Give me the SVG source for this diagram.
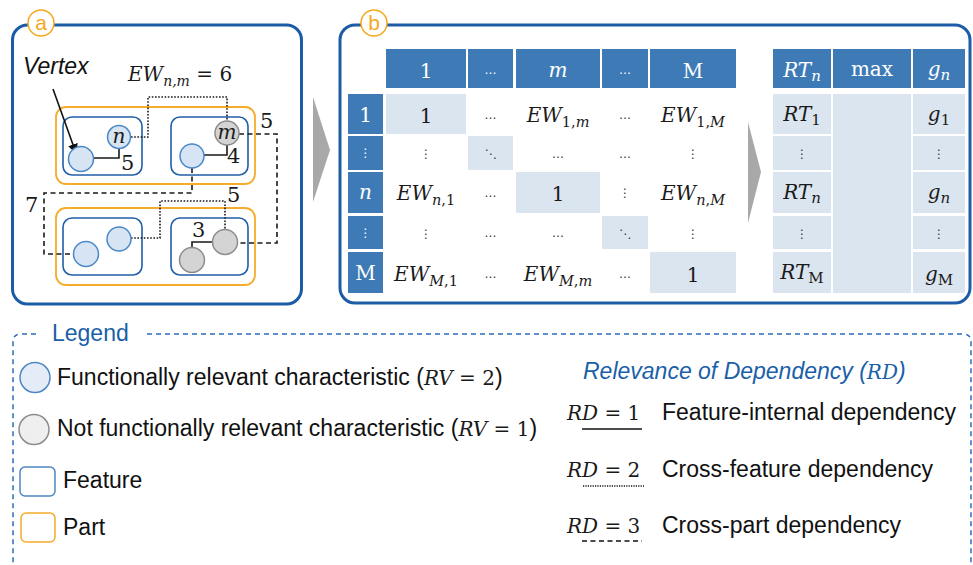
<svg xmlns="http://www.w3.org/2000/svg" width="973" height="565" viewBox="0 0 973 565">
  <defs>
    <style>
      .panel { fill: #ffffff; stroke: #1c5ca6; stroke-width: 3; }
      .badge { fill: #ffffff; stroke: #f5a81c; stroke-width: 1.5; }
      .badge-t { font-family: "Liberation Sans", Arial, sans-serif; font-size: 21px; fill: #f5a81c; text-anchor: middle; }
      .part { fill: none; stroke: #f5ac2a; stroke-width: 1.8; }
      .feat { fill: none; stroke: #1f5fa8; stroke-width: 1.6; }
      .vb { fill: #d6e4f3; stroke: #4a88c8; stroke-width: 1.5; }
      .vg { fill: #d4d4d4; stroke: #8c8c8c; stroke-width: 1.5; }
      .ln { fill: none; stroke: #1a1a1a; stroke-width: 1.6; }
      .rd2 { stroke-dasharray: 1.6 1.6; }
      .rd3 { stroke-dasharray: 5 3.5; }
      .math { font-family: "DejaVu Serif", "Liberation Serif", serif; font-size: 20px; fill: #1a1a1a; }
      .it { font-style: italic; }
      .num { font-family: "DejaVu Serif", "Liberation Serif", serif; font-size: 21px; fill: #1a1a1a; }
      .hd { fill: #3e7bb6; }
      .lt { fill: #dae5f0; }
      .c { text-anchor: middle; }
      .dots { font-family: "DejaVu Sans", sans-serif; font-size: 12px; fill: #333333; text-anchor: middle; }
      .ht { fill: #ffffff; }
      .sans { font-family: "Liberation Sans", Arial, sans-serif; font-size: 23px; fill: #111111; }
      .blue { fill: #1a5fa8; }
      .chev { fill: #a8a8a8; }
      .leg { fill: none; stroke: #2a6ebb; stroke-width: 1.5; stroke-dasharray: 5 4; }
    </style>
    <marker id="arrow" viewBox="0 0 10 10" refX="9" refY="5" markerWidth="10" markerHeight="10" markerUnits="userSpaceOnUse" orient="auto">
      <path d="M0,0 L10,5 L0,10 z" fill="#111111"/>
    </marker>
  </defs>

  <!-- Panel a: dependency graph -->
  <g id="panel-a">
    <rect class="panel" x="12.5" y="25" width="289" height="279" rx="15"/>
    <circle class="badge" cx="41" cy="23" r="13"/>
    <text class="badge-t" x="41" y="30">a</text>
  </g>

  <g id="part-top"><rect class="part" x="56" y="107" width="199" height="77" rx="10"/></g>
  <g id="part-bottom"><rect class="part" x="56" y="208" width="199" height="77" rx="10"/></g>
  <g id="feature-tl"><rect class="feat" x="63" y="117" width="79" height="58" rx="9"/></g>
  <g id="feature-tr"><rect class="feat" x="171" y="117" width="77" height="58" rx="9"/></g>
  <g id="feature-bl"><rect class="feat" x="63" y="218" width="79" height="57" rx="9"/></g>
  <g id="feature-br"><rect class="feat" x="171" y="218" width="77" height="57" rx="9"/></g>

  <!-- Connectors -->
  <g id="connectors">
    <!-- feature-internal (solid) -->
    <path class="ln" d="M93,158 H119 V148"/>
    <path class="ln" d="M204,155 H227 V145"/>
    <path class="ln" d="M213,242 H192 V248"/>
    <!-- cross-feature (dotted) -->
    <path class="ln rd2" d="M131,137 H148 V97 H227 V121"/>
    <path class="ln rd2" d="M131,238 H160 V201 H225 V230"/>
    <!-- cross-part (dashed) -->
    <path class="ln rd3" d="M239,134 H277 V243 H237"/>
    <path class="ln rd3" d="M192,168 V193 H44 V254 H74"/>
    <!-- vertex pointer -->
    <line x1="53" y1="89" x2="76" y2="153" stroke="#111111" stroke-width="1.6" marker-end="url(#arrow)"/>
  </g>

  <g id="v-tl-1"><circle class="vb" cx="81" cy="159" r="12.5"/></g>
  <g id="v-n"><circle class="vb" cx="119" cy="137" r="11.5"/>
    <text class="math it c" x="119" y="143" font-size="18">n</text></g>
  <g id="v-m"><circle class="vg" cx="227" cy="133" r="12"/>
    <text class="math it c" x="227" y="139" font-size="18">m</text></g>
  <g id="v-tr-1"><circle class="vb" cx="192" cy="156" r="12"/></g>
  <g id="v-bl-1"><circle class="vb" cx="86" cy="254" r="12.5"/></g>
  <g id="v-bl-2"><circle class="vb" cx="119" cy="239" r="12"/></g>
  <g id="v-br-1"><circle class="vg" cx="225" cy="242" r="12.5"/></g>
  <g id="v-br-2"><circle class="vg" cx="192" cy="260" r="12.5"/></g>

  <!-- Panel a labels -->
  <g id="labels-a">
    <text class="sans" x="23" y="74" font-style="italic" font-size="21">Vertex</text>
    <text class="math" x="128" y="81" font-size="19"><tspan class="it">EW</tspan><tspan class="it" font-size="14" dy="5">n,m</tspan><tspan dy="-5"> = 6</tspan></text>
    <text class="num" x="121" y="170">5</text>
    <text class="num" x="227" y="163">4</text>
    <text class="num" x="260" y="128">5</text>
    <text class="num" x="227" y="202">5</text>
    <text class="num" x="25" y="212">7</text>
    <text class="num" x="192" y="237">3</text>
  </g>

  <!-- Arrows between stages -->
  <g id="chevron-1"><polygon class="chev" points="313,97 330,150 313,202"/></g>

  <!-- Panel b: matrix -->
  <g id="panel-b">
    <rect class="panel" x="340" y="25" width="630" height="278" rx="15"/>
    <circle class="badge" cx="374" cy="23" r="13"/>
    <text class="badge-t" x="374" y="30">b</text>
  </g>

  <g id="chevron-2"><polygon class="chev" points="748,122 761,172 748,223"/></g>

  <g id="matrix">
    <!-- column headers -->
    <rect class="hd" x="386" y="49" width="80" height="39"/>
    <rect class="hd" x="468" y="49" width="45" height="39"/>
    <rect class="hd" x="516" y="49" width="84" height="39"/>
    <rect class="hd" x="602" y="49" width="46" height="39"/>
    <rect class="hd" x="650" y="49" width="86" height="39"/>
    <!-- row headers -->
    <rect class="hd" x="348" y="94" width="35" height="40"/>
    <rect class="hd" x="348" y="136" width="35" height="34"/>
    <rect class="hd" x="348" y="172" width="35" height="41"/>
    <rect class="hd" x="348" y="216" width="35" height="33"/>
    <rect class="hd" x="348" y="252" width="35" height="41"/>
    <!-- diagonal -->
    <rect class="lt" x="386" y="94" width="80" height="40"/>
    <rect class="lt" x="468" y="136" width="45" height="34"/>
    <rect class="lt" x="516" y="172" width="84" height="41"/>
    <rect class="lt" x="602" y="216" width="46" height="33"/>
    <rect class="lt" x="650" y="252" width="86" height="41"/>

    <!-- header texts -->
    <text class="math ht c" x="426" y="78" font-size="21">1</text>
    <text class="dots ht" x="490.5" y="74">…</text>
    <text class="math it ht c" x="558" y="77" font-size="21">m</text>
    <text class="dots ht" x="625" y="74">…</text>
    <text class="math ht c" x="693" y="78" font-size="21">M</text>
    <text class="math ht c" x="365.5" y="122" font-size="21">1</text>
    <text class="dots ht" x="365.5" y="157">⋮</text>
    <text class="math it ht c" x="365.5" y="199" font-size="21">n</text>
    <text class="dots ht" x="365.5" y="237">⋮</text>
    <text class="math ht c" x="365.5" y="280" font-size="21">M</text>

    <!-- row 1 -->
    <text class="math c" x="426" y="123" font-size="25">1</text>
    <text class="dots" x="490.5" y="119">…</text>
    <text class="math c" x="558" y="122"><tspan class="it">EW</tspan><tspan font-size="14.5" dy="5">1,</tspan><tspan class="it" font-size="14.5">m</tspan></text>
    <text class="dots" x="625" y="119">…</text>
    <text class="math c" x="693" y="122"><tspan class="it">EW</tspan><tspan font-size="14.5" dy="5">1,</tspan><tspan class="it" font-size="14.5">M</tspan></text>
    <!-- row 2 -->
    <text class="dots" x="426" y="158">⋮</text>
    <text class="dots" x="490.5" y="158">⋱</text>
    <text class="dots" x="558" y="158">…</text>
    <text class="dots" x="625" y="158">…</text>
    <text class="dots" x="693" y="158">⋮</text>
    <!-- row 3 -->
    <text class="math c" x="426" y="200"><tspan class="it">EW</tspan><tspan class="it" font-size="14.5" dy="5">n</tspan><tspan font-size="14.5">,1</tspan></text>
    <text class="dots" x="490.5" y="197">…</text>
    <text class="math c" x="558" y="201" font-size="25">1</text>
    <text class="dots" x="625" y="197">⋮</text>
    <text class="math c" x="693" y="200"><tspan class="it">EW</tspan><tspan class="it" font-size="14.5" dy="5">n</tspan><tspan font-size="14.5">,</tspan><tspan class="it" font-size="14.5">M</tspan></text>
    <!-- row 4 -->
    <text class="dots" x="426" y="238">⋮</text>
    <text class="dots" x="490.5" y="237">…</text>
    <text class="dots" x="558" y="237">…</text>
    <text class="dots" x="625" y="238">⋱</text>
    <text class="dots" x="693" y="238">⋮</text>
    <!-- row 5 -->
    <text class="math c" x="426" y="281"><tspan class="it">EW</tspan><tspan class="it" font-size="14.5" dy="5">M</tspan><tspan font-size="14.5">,1</tspan></text>
    <text class="dots" x="490.5" y="278">…</text>
    <text class="math c" x="558" y="281"><tspan class="it">EW</tspan><tspan class="it" font-size="14.5" dy="5">M</tspan><tspan font-size="14.5">,</tspan><tspan class="it" font-size="14.5">m</tspan></text>
    <text class="dots" x="625" y="278">…</text>
    <text class="math c" x="693" y="282" font-size="25">1</text>
  </g>

  <g id="ranking">
    <rect class="hd" x="773" y="49" width="58" height="39"/>
    <rect class="hd" x="833" y="49" width="78" height="39"/>
    <rect class="hd" x="913" y="49" width="52" height="39"/>
    <rect class="lt" x="773" y="94" width="58" height="40"/>
    <rect class="lt" x="773" y="136" width="58" height="34"/>
    <rect class="lt" x="773" y="172" width="58" height="41"/>
    <rect class="lt" x="773" y="216" width="58" height="33"/>
    <rect class="lt" x="773" y="252" width="58" height="41"/>
    <rect class="lt" x="833" y="94" width="78" height="199"/>
    <rect class="lt" x="913" y="94" width="52" height="40"/>
    <rect class="lt" x="913" y="136" width="52" height="34"/>
    <rect class="lt" x="913" y="172" width="52" height="41"/>
    <rect class="lt" x="913" y="216" width="52" height="33"/>
    <rect class="lt" x="913" y="252" width="52" height="41"/>

    <text class="math ht c" x="802" y="77" font-size="21"><tspan class="it">RT</tspan><tspan class="it" font-size="15" dy="4">n</tspan></text>
    <text class="math ht c" x="872" y="76" font-size="21">max</text>
    <text class="math ht c" x="939" y="76" font-size="21"><tspan class="it">g</tspan><tspan class="it" font-size="15" dy="4">n</tspan></text>

    <text class="math c" x="802" y="121" font-size="21"><tspan class="it">RT</tspan><tspan font-size="15" dy="4">1</tspan></text>
    <text class="dots" x="802" y="158">⋮</text>
    <text class="math c" x="802" y="199" font-size="21"><tspan class="it">RT</tspan><tspan class="it" font-size="15" dy="4">n</tspan></text>
    <text class="dots" x="802" y="238">⋮</text>
    <text class="math c" x="802" y="279" font-size="21"><tspan class="it">RT</tspan><tspan font-size="15" dy="4">M</tspan></text>

    <text class="math c" x="939" y="121" font-size="21"><tspan class="it">g</tspan><tspan font-size="15" dy="4">1</tspan></text>
    <text class="dots" x="939" y="158">⋮</text>
    <text class="math c" x="939" y="199" font-size="21"><tspan class="it">g</tspan><tspan class="it" font-size="15" dy="4">n</tspan></text>
    <text class="dots" x="939" y="238">⋮</text>
    <text class="math c" x="939" y="281" font-size="21"><tspan class="it">g</tspan><tspan font-size="15" dy="4">M</tspan></text>
  </g>

  <!-- Legend -->
  <g id="legend">
    <path class="leg" d="M36,334 H21 Q13,334 13,342 V580"/>
    <path class="leg" d="M147,334 H963 Q971,334 971,342 V580"/>
    <text class="sans blue" x="52" y="341">Legend</text>

    <circle cx="35" cy="377.5" r="15" fill="#e3ecf7" stroke="#4f86c6" stroke-width="1.5"/>
    <text class="sans" x="57" y="385">Functionally relevant characteristic (<tspan class="math it" font-size="22">RV</tspan><tspan class="math" font-size="22"> = 2</tspan>)</text>

    <circle cx="34" cy="429.5" r="15" fill="#efefef" stroke="#8c8c8c" stroke-width="1.5"/>
    <text class="sans" x="57" y="436">Not functionally relevant characteristic (<tspan class="math it" font-size="22">RV</tspan><tspan class="math" font-size="22"> = 1</tspan>)</text>

    <rect x="20" y="467" width="35" height="29" rx="5" fill="none" stroke="#4f86c6" stroke-width="1.5"/>
    <text class="sans" x="63" y="488">Feature</text>

    <rect x="21" y="513" width="34" height="29" rx="5" fill="none" stroke="#f5ac2a" stroke-width="1.5"/>
    <text class="sans" x="63" y="535">Part</text>

    <text class="sans blue" x="583" y="379" font-style="italic" font-size="22">Relevance of Dependency (<tspan class="math it blue" font-size="21">RD</tspan>)</text>

    <text class="math" x="567" y="420" font-size="21"><tspan class="it">RD</tspan> = 1</text>
    <line x1="582" y1="429" x2="642" y2="429" stroke="#111111" stroke-width="1.6"/>
    <text class="sans" x="662" y="420">Feature-internal dependency</text>

    <text class="math" x="567" y="477" font-size="21"><tspan class="it">RD</tspan> = 2</text>
    <line x1="583" y1="486" x2="644" y2="486" stroke="#111111" stroke-width="1.6" stroke-dasharray="1.2 1.2"/>
    <text class="sans" x="662" y="477">Cross-feature dependency</text>

    <text class="math" x="567" y="533" font-size="21"><tspan class="it">RD</tspan> = 3</text>
    <line x1="582" y1="541" x2="642" y2="541" stroke="#111111" stroke-width="1.6" stroke-dasharray="5 3.5"/>
    <text class="sans" x="662" y="533">Cross-part dependency</text>
  </g>
</svg>
